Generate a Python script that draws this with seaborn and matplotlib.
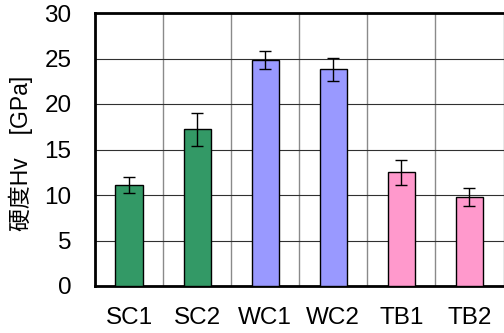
import numpy as np
import pandas as pd
import matplotlib
matplotlib.use('Agg')
import matplotlib.pyplot as plt
import seaborn as sns

# hardness values
samples = ['SC1', 'SC2', 'WC1', 'WC2', 'TB1', 'TB2']
hardness = [11.1, 17.2, 24.8, 23.8, 12.5, 9.8]
hardness_err = [0.9, 1.8, 1.0, 1.25, 1.35, 1.0]
bar_colors = ['#339966', '#339966', '#9999FF', '#9999FF', '#FF99CC', '#FF99CC']
y_ticks = [0, 5, 10, 15, 20, 25, 30]

sns.set_theme(style='white')
plt.rcParams['font.family'] = ['Liberation Sans', 'Noto Sans CJK JP', 'DejaVu Sans']

df = pd.DataFrame({'sample': samples, 'hardness': hardness})

fig = plt.figure(figsize=(5.04, 3.33), dpi=100)
ax = fig.add_axes([95 / 504, 47 / 333, 408.5 / 504, 273 / 333])

sns.barplot(data=df, x='sample', y='hardness', hue='sample', palette=bar_colors,
            legend=False, width=0.4, edgecolor='black', linewidth=1.0,
            saturation=1, ax=ax, zorder=3)
ax.errorbar(np.arange(len(samples)), hardness, yerr=hardness_err, fmt='none',
            ecolor='black', elinewidth=1.0, capsize=4, capthick=1.0, zorder=4)

ax.set_xlim(-0.5, len(samples) - 0.5)
ax.set_ylim(0, 30)
ax.set_yticks(y_ticks)
ax.set_xticks(np.arange(len(samples) + 1) - 0.5, minor=True)

# grid: dark horizontal lines, grey vertical lines between categories
ax.grid(True, axis='y', which='major', color='#303030', linewidth=0.8, zorder=0)
ax.grid(True, axis='x', which='minor', color='#8a8a8a', linewidth=1.0, zorder=0)
ax.grid(False, axis='x', which='major')
ax.set_axisbelow(True)

for side in ['left', 'top', 'bottom']:
    ax.spines[side].set_color('black')
    ax.spines[side].set_linewidth(2.0)
ax.spines['right'].set_visible(False)

ax.tick_params(axis='both', which='both', length=0, labelsize=17.5, colors='black')
ax.tick_params(axis='x', pad=15)
ax.tick_params(axis='y', pad=17)
ax.set_xlabel('')
ax.set_ylabel('硬度Hv\u3000[GPa]', fontsize=16.5, color='black', va='center')
ax.yaxis.set_label_coords(-0.181, 0.485)

fig.savefig('out.png', dpi=100)
